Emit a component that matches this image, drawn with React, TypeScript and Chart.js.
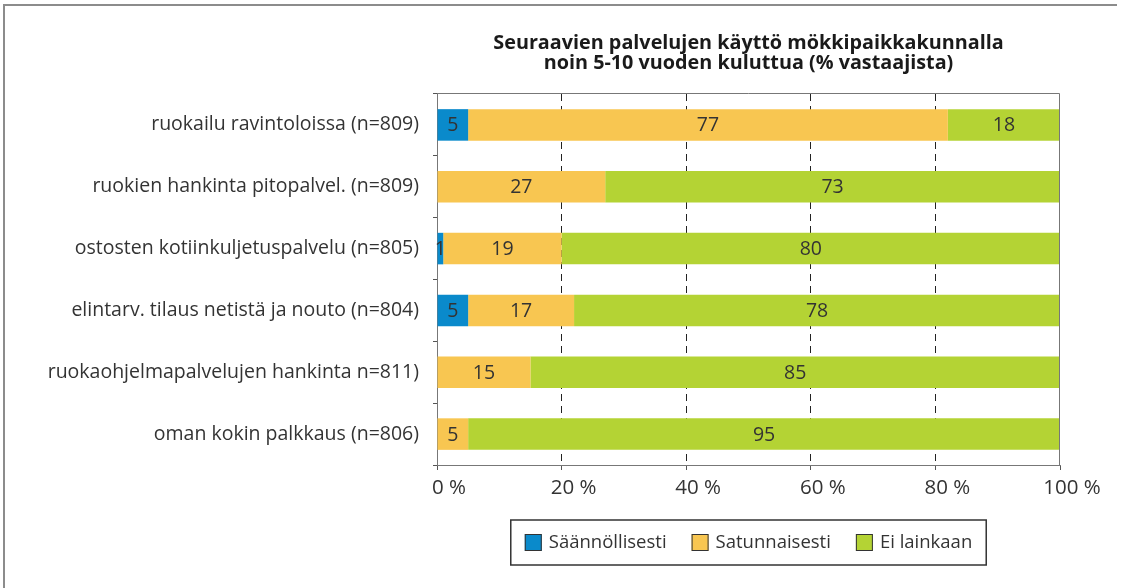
import React, { useEffect, useRef } from "react";
import { Chart, registerables } from "chart.js";

Chart.register(...registerables);

const categories = [
  "ruokailu ravintoloissa (n=809)",
  "ruokien hankinta pitopalvel. (n=809)",
  "ostosten kotiinkuljetuspalvelu (n=805)",
  "elintarv. tilaus netistä ja nouto (n=804)",
  "ruokaohjelmapalvelujen hankinta n=811)",
  "oman kokin palkkaus (n=806)",
];
const saannollisesti = [5, 0, 1, 5, 0, 0];
const satunnaisesti = [77, 27, 19, 17, 15, 5];
const eiLainkaan = [18, 73, 80, 78, 85, 95];
const seriesNames = ["Säännöllisesti", "Satunnaisesti", "Ei lainkaan"];
const seriesColors = ["#0A8ACB", "#F8C651", "#B4D334"];
const titleLines = [
  "Seuraavien palvelujen käyttö mökkipaikkakunnalla",
  "noin 5-10 vuoden kuluttua (% vastaajista)",
];
const tickSuffix = " %";

const FONT = "'Open Sans', 'Noto Sans', sans-serif";
const TEXT = "#333333";

const decorPlugin = {
  id: "decor",
  beforeDraw(chart: any) {
    const ctx = chart.ctx;
    ctx.save();
    ctx.fillStyle = "#ffffff";
    ctx.fillRect(0, 0, chart.width, chart.height);
    ctx.strokeStyle = "#8c8c8c";
    ctx.lineWidth = 2;
    ctx.beginPath();
    ctx.moveTo(4, chart.height);
    ctx.lineTo(4, 5);
    ctx.lineTo(1117, 5);
    ctx.stroke();
    ctx.restore();
  },
  afterDatasetsDraw(chart: any) {
    const ctx = chart.ctx;
    const { left, right, top, bottom } = chart.chartArea;
    ctx.save();
    // top and right border of plot
    ctx.strokeStyle = "#777777";
    ctx.lineWidth = 1;
    ctx.beginPath();
    ctx.moveTo(left, Math.round(top) - 0.5);
    ctx.lineTo(Math.round(right) - 0.5, Math.round(top) - 0.5);
    ctx.lineTo(Math.round(right) - 0.5, bottom);
    ctx.stroke();

    // value labels
    ctx.fillStyle = TEXT;
    ctx.font = `19.5px ${FONT}`;
    ctx.textAlign = "center";
    ctx.textBaseline = "middle";
    chart.data.datasets.forEach((ds: any, i: number) => {
      const meta = chart.getDatasetMeta(i);
      meta.data.forEach((bar: any, j: number) => {
        const v = ds.data[j];
        if (!v) return;
        const p = bar.getProps(["x", "y", "base"], true);
        ctx.fillText(String(v), (p.x + p.base) / 2, p.y + 1);
      });
    });

    // title
    const cx = (left + right) / 2;
    ctx.font = `bold 19.8px ${FONT}`;
    ctx.fillStyle = "#1a1a1a";
    ctx.fillText(titleLines[0], cx, 43);
    ctx.fillText(titleLines[1], cx, 63);

    // legend
    ctx.font = `18.5px ${FONT}`;
    const box = 17;
    const gapText = 7;
    const gapItem = 25;
    const widths = chart.data.datasets.map((d: any) => ctx.measureText(d.label).width);
    const total =
      widths.reduce((a: number, w: number) => a + box + gapText + w, 0) + gapItem * (widths.length - 1);
    const legTop = 520;
    const legH = 45;
    const padX = 14;
    const legLeft = cx - total / 2 - padX;
    const legW = total + padX * 2;
    ctx.strokeStyle = "#333333";
    ctx.lineWidth = 1.5;
    ctx.strokeRect(legLeft, legTop, legW, legH);
    let x = cx - total / 2;
    const cy = legTop + legH / 2;
    ctx.textAlign = "left";
    chart.data.datasets.forEach((d: any, i: number) => {
      ctx.fillStyle = d.backgroundColor;
      ctx.fillRect(x, cy - box / 2, box, box);
      ctx.strokeStyle = "#333333";
      ctx.lineWidth = 1;
      ctx.strokeRect(x + 0.5, cy - box / 2 + 0.5, box - 1, box - 1);
      ctx.fillStyle = TEXT;
      ctx.fillText(d.label, x + box + gapText, cy);
      x += box + gapText + widths[i] + gapItem;
    });
    ctx.restore();
  },
};

export default function App() {
  const ref = useRef<HTMLCanvasElement | null>(null);

  useEffect(() => {
    if (!ref.current) return;
    const chart = new Chart(ref.current, {
      type: "bar",
      data: {
        labels: categories,
        datasets: [
          { label: seriesNames[0], data: saannollisesti, backgroundColor: seriesColors[0] },
          { label: seriesNames[1], data: satunnaisesti, backgroundColor: seriesColors[1] },
          { label: seriesNames[2], data: eiLainkaan, backgroundColor: seriesColors[2] },
        ],
      },
      options: {
        indexAxis: "y",
        animation: false,
        responsive: false,
        maintainAspectRatio: false,
        layout: { padding: { left: 0, top: 94, right: 65, bottom: 0 } },
        datasets: {
          bar: { barPercentage: 0.51, categoryPercentage: 1, borderWidth: 0 },
        },
        plugins: {
          legend: { display: false },
          title: { display: false },
          tooltip: { enabled: false },
        },
        scales: {
          x: {
            stacked: true,
            min: 0,
            max: 100,
            afterFit: (s: any) => {
              s.height = 123;
            },
            ticks: {
              stepSize: 20,
              callback: (v: any) => `${v}${tickSuffix}`,
              color: TEXT,
              font: { family: FONT, size: 20.5 },
              padding: 6,
              labelOffset: 12,
              maxRotation: 0,
            },
            grid: {
              display: true,
              drawOnChartArea: true,
              color: (c: any) =>
                c.tick && (c.tick.value === 0 || c.tick.value === 100) ? "rgba(0,0,0,0)" : "#222222",
              tickColor: "#555555",
              tickLength: 5,
              lineWidth: 1,
            },
            border: { display: true, color: "#777777", width: 1, dash: [7, 5] },
          },
          y: {
            stacked: true,
            afterFit: (s: any) => {
              s.width = 437;
            },
            ticks: {
              color: TEXT,
              font: { family: FONT, size: 19.5 },
              padding: 14,
            },
            grid: {
              display: true,
              drawOnChartArea: false,
              offset: true,
              tickLength: 4,
              color: "#555555",
            },
            border: { display: true, color: "#777777", width: 1 },
          },
        },
      },
      plugins: [decorPlugin],
    });
    return () => chart.destroy();
  }, []);

  return (
    <div style={{ position: "absolute", left: 0, top: 0, width: 1125, height: 588 }}>
      <canvas ref={ref} width={1125} height={588} style={{ width: 1125, height: 588 }} />
    </div>
  );
}
